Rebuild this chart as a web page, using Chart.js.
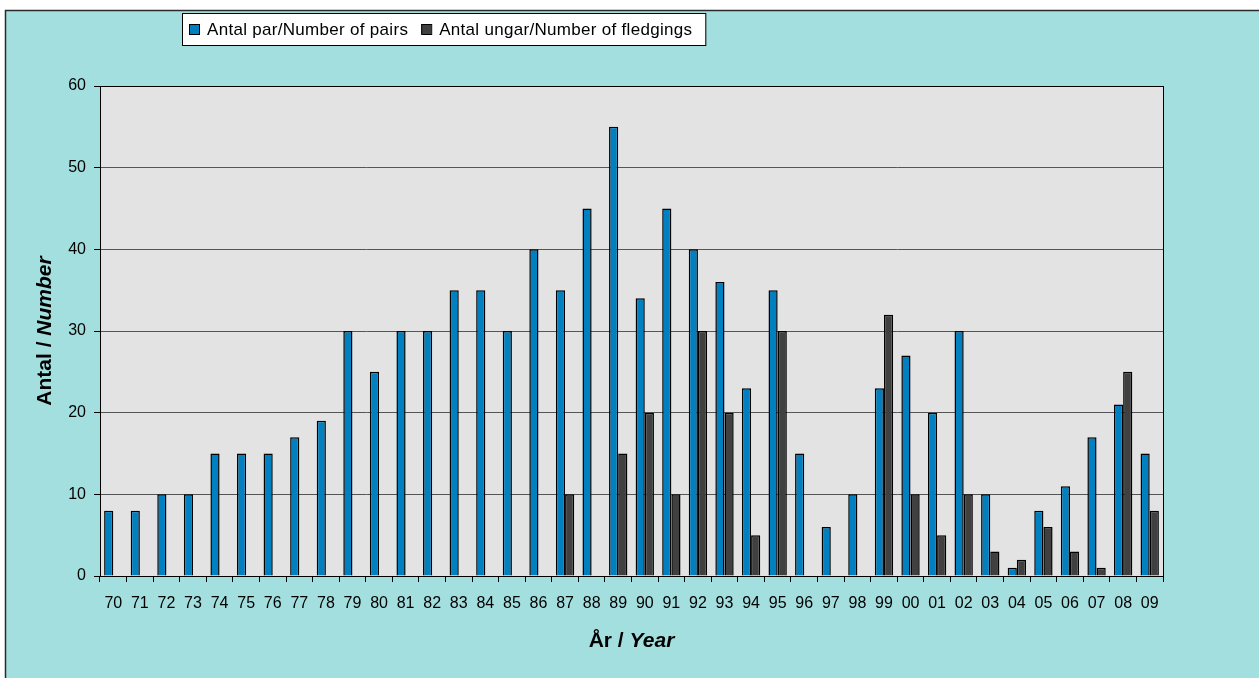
<!DOCTYPE html>
<html>
<head>
<meta charset="utf-8">
<title>Antal par och ungar 1970–2009</title>
<script src="https://cdn.jsdelivr.net/npm/chart.js@4/dist/chart.umd.min.js"></script>
<style>
  html, body { margin: 0; padding: 0; background: #ffffff; }
  #wrap { width: 1259px; height: 678px; position: relative; }
  canvas { display: block; }
</style>
</head>
<body>
<div id="wrap"><canvas id="chart" width="1259" height="678"></canvas></div>
<script>
// Years (two-digit labels), 1970–2009
const years = ['70','71','72','73','74','75','76','77','78','79',
               '80','81','82','83','84','85','86','87','88','89',
               '90','91','92','93','94','95','96','97','98','99',
               '00','01','02','03','04','05','06','07','08','09'];

// Antal par / Number of pairs
const pairs = [8, 8, 10, 10, 15, 15, 15, 17, 19, 30,
               25, 30, 30, 35, 35, 30, 40, 35, 45, 55,
               34, 45, 40, 36, 23, 35, 15, 6, 10, 23,
               27, 20, 30, 10, 1, 8, 11, 17, 21, 15];

// Antal ungar / Number of fledgings (null = not recorded)
const fledgings = [null, null, null, null, null, null, null, null, null, null,
                   null, null, null, null, null, null, null, 10, null, 15,
                   20, 10, 30, 20, 5, 30, null, null, null, 32,
                   10, 5, 10, 3, 2, 6, 3, 1, 25, 8];

const yTicks = [0, 10, 20, 30, 40, 50, 60];

const seriesNames = ['Antal par/Number of pairs', 'Antal ungar/Number of fledgings'];
const seriesColors = ['#0080C0', '#404040'];

const FONT = "'Liberation Sans', Arial, Helvetica, sans-serif";
const PANEL = '#A4DFE0';
const PLOT_BG = '#E3E3E3';

// Panel background, plot background, frame lines, axis titles and the boxed legend
const decor = {
  id: 'decor',
  beforeDraw(chart) {
    const { ctx, chartArea: a, width, height } = chart;
    ctx.save();
    ctx.fillStyle = '#ffffff';
    ctx.fillRect(0, 0, width, height);
    ctx.fillStyle = PANEL;
    ctx.fillRect(5, 10, width - 5, height - 10);
    ctx.strokeStyle = '#2a2a2a';
    ctx.lineWidth = 1.5;
    ctx.beginPath();
    ctx.moveTo(5.5, height);
    ctx.lineTo(5.5, 10.5);
    ctx.lineTo(width, 10.5);
    ctx.stroke();
    ctx.fillStyle = PLOT_BG;
    ctx.fillRect(a.left, a.top, a.right - a.left, a.bottom - a.top);
    ctx.restore();
  },
  afterDraw(chart) {
    const { ctx, chartArea: a } = chart;
    ctx.save();
    // plot frame
    ctx.strokeStyle = '#000000';
    ctx.lineWidth = 1;
    ctx.strokeRect(Math.round(a.left) + 0.5, Math.round(a.top) + 0.5,
                   Math.round(a.right - a.left), Math.round(a.bottom - a.top));

    // axis titles: bold, second half bold italic
    const drawTitle = (part1, part2, cx, cy, rot) => {
      ctx.save();
      ctx.translate(cx, cy);
      if (rot) ctx.rotate(-Math.PI / 2);
      ctx.fillStyle = '#000';
      ctx.textBaseline = 'alphabetic';
      ctx.textAlign = 'left';
      const f1 = "bold 21px " + FONT;
      const f2 = "italic bold 21px " + FONT;
      ctx.font = f1; const w1 = ctx.measureText(part1).width;
      ctx.font = f2; const w2 = ctx.measureText(part2).width;
      const x0 = -(w1 + w2) / 2;
      ctx.font = f1; ctx.fillText(part1, x0, 0);
      ctx.font = f2; ctx.fillText(part2, x0 + w1, 0);
      ctx.restore();
    };
    drawTitle('År / ', 'Year', (a.left + a.right) / 2, 647, false);
    drawTitle('Antal / ', 'Number', 51, (a.top + a.bottom) / 2, true);

    // legend
    ctx.font = "17px " + FONT;
    if ('letterSpacing' in ctx) ctx.letterSpacing = '0.3px';
    const boxL = 182, boxT = 13, boxH = 32;
    let x = boxL + 7;
    const items = [];
    seriesNames.forEach((name, i) => {
      items.push({ sx: x, tx: x + 18, name, color: seriesColors[i] });
      x += 18 + ctx.measureText(name).width + 13;
    });
    const boxR = x;
    ctx.fillStyle = '#ffffff';
    ctx.fillRect(boxL, boxT, boxR - boxL, boxH);
    ctx.strokeStyle = '#000';
    ctx.lineWidth = 1;
    ctx.strokeRect(boxL + 0.5, boxT + 0.5, boxR - boxL, boxH);
    ctx.textBaseline = 'middle';
    items.forEach(it => {
      ctx.fillStyle = it.color;
      ctx.fillRect(it.sx, boxT + 11, 10, 10);
      ctx.strokeStyle = '#000';
      ctx.strokeRect(it.sx + 0.5, boxT + 11.5, 10, 10);
      ctx.fillStyle = '#000';
      ctx.fillText(it.name, it.tx, boxT + boxH / 2 + 1);
    });
    ctx.restore();
  }
};

new Chart(document.getElementById('chart'), {
  type: 'bar',
  data: {
    labels: years,
    datasets: [
      { label: seriesNames[0], data: pairs, backgroundColor: seriesColors[0],
        borderColor: '#000', borderWidth: 1.5 },
      { label: seriesNames[1], data: fledgings, backgroundColor: seriesColors[1],
        borderColor: '#000', borderWidth: 1.5 }
    ]
  },
  options: {
    responsive: false,
    animation: false,
    devicePixelRatio: 1,
    layout: { padding: { top: 86, right: 96, bottom: 0, left: 0 } },
    datasets: { bar: { categoryPercentage: 0.69, barPercentage: 1.0 } },
    plugins: { legend: { display: false }, tooltip: { enabled: false } },
    scales: {
      x: {
        afterFit(s) { s.height = 102; },
        grid: { offset: true, drawOnChartArea: false, drawTicks: true, tickLength: 6,
                color: '#000', lineWidth: 1 },
        border: { display: true, color: '#000', width: 1 },
        ticks: { font: { family: FONT, size: 16 }, color: '#000', padding: 12,
                 maxRotation: 0, autoSkip: false }
      },
      y: {
        min: 0, max: 60,
        afterFit(s) { s.width = 100; },
        afterBuildTicks(s) { s.ticks = yTicks.map(v => ({ value: v })); },
        grid: { color: '#555555', lineWidth: 1, drawTicks: true, tickLength: 6,
                tickColor: '#000' },
        border: { display: true, color: '#000', width: 1 },
        ticks: { font: { family: FONT, size: 16 }, color: '#000', padding: 8 }
      }
    }
  },
  plugins: [decor]
});
</script>
</body>
</html>
